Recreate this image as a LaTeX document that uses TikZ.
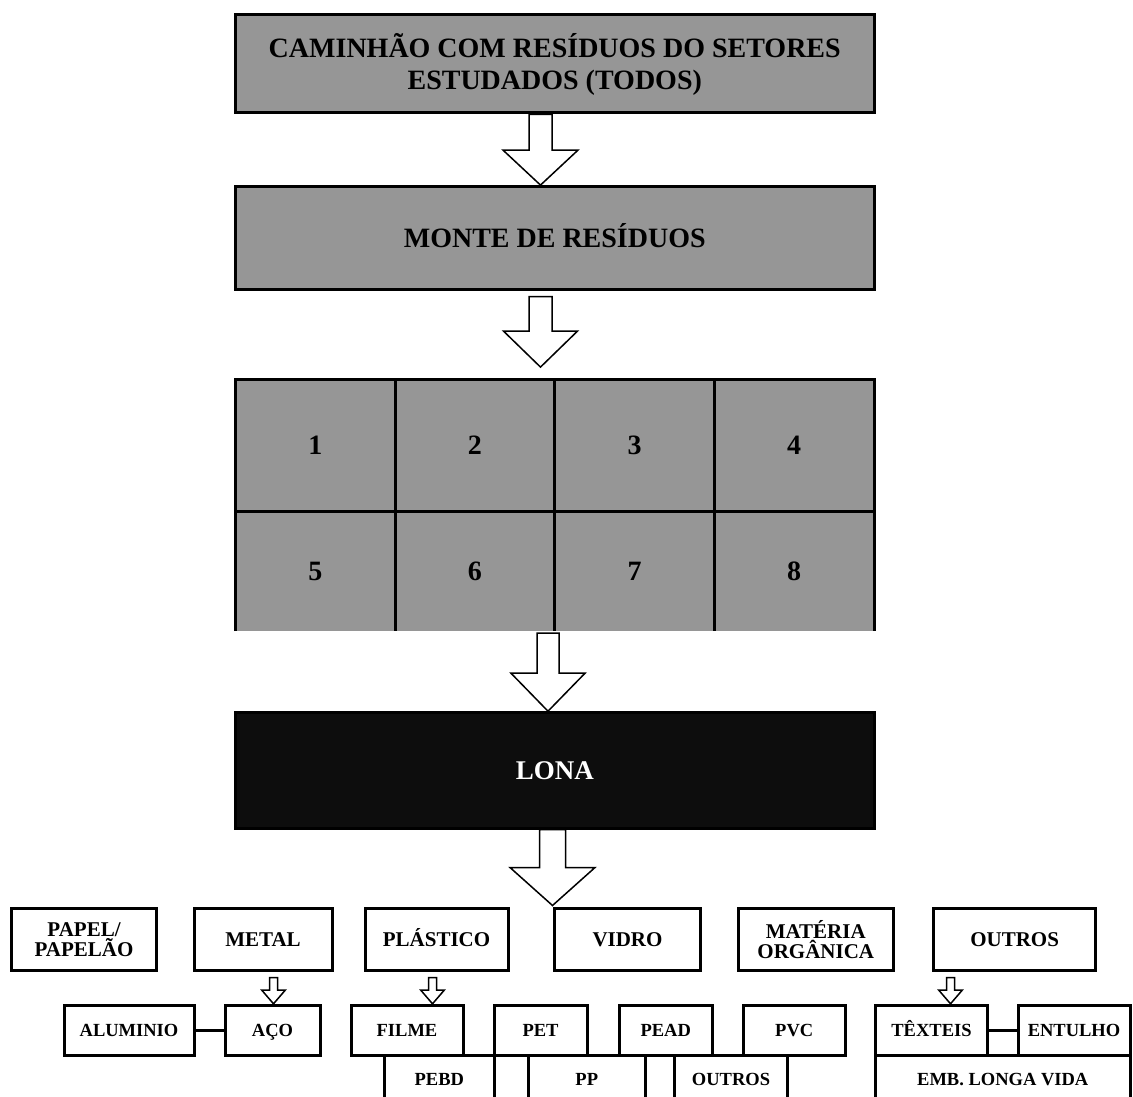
\documentclass[tikz,border=0pt]{standalone}
\usepackage{fontspec}
\setmainfont{Liberation Serif}
\usetikzlibrary{calc}
\definecolor{boxgray}{RGB}{150,150,150}
\definecolor{lonablack}{RGB}{13,13,13}
% #1 from node, #2 to node, #3 x, #4 start gap, #5 end gap, #6 shaft half width, #7 head half width, #8 head length
\newcommand{\blkarrow}[8]{%
  \draw[blockarrow] let \p1=(#1.south), \p2=(#2.north) in
    (#3-#6, \y1-#4) -- (#3-#6, \y2+#5+#8) -- (#3-#7, \y2+#5+#8) -- (#3, \y2+#5)
    -- (#3+#7, \y2+#5+#8) -- (#3+#6, \y2+#5+#8) -- (#3+#6, \y1-#4) -- cycle;}
\begin{document}
\begin{tikzpicture}[x=1pt,y=-1pt,
  bigbox/.style={draw=black, line width=3pt, fill=boxgray, inner sep=0pt, align=center,
    font=\fontsize{28}{32}\selectfont\bfseries},
  bigcap/.style={text height=18.5pt, text depth=0pt},
  cell/.style={fill=boxgray, inner sep=0pt, minimum width=159.6pt,
    text height=18.9pt, text depth=0pt,
    font=\fontsize{28}{32}\selectfont\bfseries},
  gridline/.style={draw=black, line width=3pt},
  midbox/.style={draw=black, line width=3pt, fill=white, inner sep=0pt, align=center,
    minimum height=62.5pt, font=\fontsize{21}{20}\selectfont\bfseries},
  midcap/.style={text height=13.9pt, text depth=0pt},
  smallbox/.style={draw=black, line width=3pt, fill=white, inner sep=0pt, align=center,
    minimum height=50.4pt, text height=12.3pt, text depth=0pt,
    font=\fontsize{18.5}{20}\selectfont\bfseries},
  openbox/.style={inner sep=0pt, align=center, minimum height=48pt,
    text height=12.3pt, text depth=0pt,
    font=\fontsize{18.5}{20}\selectfont\bfseries},
  openline/.style={draw=black, line width=3pt},
  conn/.style={draw=black, line width=3pt},
  blockarrow/.style={draw=black, fill=white, line width=1.5pt, line join=miter}
]
\useasboundingbox (0,0) rectangle (1133,1097);
\fill[white] (0,0) rectangle (1133,1097);

% top boxes
\node[bigbox, minimum width=638.5pt, minimum height=98pt] (truck) at (554.75,64)
  {CAMINHÃO COM RESÍDUOS DO SETORES\\ESTUDADOS (TODOS)};
\node[bigbox, bigcap, minimum width=638.5pt, minimum height=103pt] (monte) at (554.75,238.1)
  {MONTE DE RESÍDUOS};

% grid
\node[cell, minimum height=131.7pt] (c1) at (315.3,445.15) {1};
\node[cell, minimum height=131.7pt] (c2) at (474.9,445.15) {2};
\node[cell, minimum height=131.7pt] (c3) at (634.5,445.15) {3};
\node[cell, minimum height=131.7pt] (c4) at (794.1,445.15) {4};
\node[cell, minimum height=120pt] (c5) at (315.3,571) {5};
\node[cell, minimum height=120pt] (c6) at (474.9,571) {6};
\node[cell, minimum height=120pt] (c7) at (634.5,571) {7};
\node[cell, minimum height=120pt] (c8) at (794.1,571) {8};
\draw[gridline] (c5.south west) -- (c1.north west) -- (c4.north east) -- (c8.south east);
\draw[gridline] (c1.south west) -- (c4.south east);
\draw[gridline] (c1.north east) -- (c5.south east);
\draw[gridline] (c2.north east) -- (c6.south east);
\draw[gridline] (c3.north east) -- (c7.south east);

% lona
\node[draw=black, line width=3pt, fill=lonablack, text=white, inner sep=0pt,
  minimum width=638.5pt, minimum height=115.5pt, text height=17.9pt, text depth=0pt,
  font=\fontsize{27}{30}\selectfont\bfseries] (lona) at (554.75,770.45) {LONA};

% middle row
\node[midbox, minimum width=144.5pt] (papel) at (84.05,939.25) {PAPEL/\\PAPELÃO};
\node[midbox, midcap, minimum width=138pt] (metal) at (263,939.25) {METAL};
\node[midbox, midcap, minimum width=143pt] (plastico) at (436.5,939.25) {PLÁSTICO};
\node[midbox, midcap, minimum width=146pt] (vidro) at (627.5,939.25) {VIDRO};
\node[midbox, minimum width=154.5pt] (materia) at (815.75,939.25) {MATÉRIA\\ORGÂNICA};
\node[midbox, midcap, minimum width=162.3pt] (outros) at (1014.65,939.25) {OUTROS};

% small row
\node[smallbox, minimum width=130pt] (aluminio) at (129,1030.5) {ALUMINIO};
\node[smallbox, minimum width=95pt] (aco) at (272.5,1030.5) {AÇO};
\node[smallbox, minimum width=112pt] (filme) at (407,1030.5) {FILME};
\node[smallbox, minimum width=93pt] (pet) at (540.5,1030.5) {PET};
\node[smallbox, minimum width=93.5pt] (pead) at (665.75,1030.5) {PEAD};
\node[smallbox, minimum width=101.5pt] (pvc) at (794.25,1030.5) {PVC};
\node[smallbox, minimum width=112pt] (texteis) at (931.5,1030.5) {TÊXTEIS};
\node[smallbox, minimum width=112pt] (entulho) at (1074,1030.5) {ENTULHO};

% open boxes below
\node[openbox, minimum width=109.4pt] (pebd) at (439.3,1079.7) {PEBD};
\node[openbox, minimum width=116.5pt] (pp) at (586.75,1079.7) {PP};
\node[openbox, minimum width=113pt] (outrosb) at (731,1079.7) {OUTROS};
\node[openbox, minimum width=254.5pt] (emb) at (1002.75,1079.7) {EMB. LONGA VIDA};
\foreach \n in {pebd,pp,outrosb,emb}{
  \draw[openline] (\n.north west |- 0,1100) -- (\n.north west) -- (\n.north east) -- (\n.north east |- 0,1100);
}

% connectors
\draw[conn] (aluminio.east) -- (aco.west);
\draw[conn] (texteis.east) -- (entulho.west);

% block arrows
\blkarrow{truck}{monte}{540.5}{0}{0}{11.5}{37.5}{35}
\blkarrow{monte}{c2}{540.5}{5.5}{12}{11.5}{37}{36}
\blkarrow{c6}{lona}{548}{2}{0}{11}{37}{38}
\blkarrow{lona}{vidro}{552.5}{0}{1}{13}{42.5}{38}
\blkarrow{metal}{aco}{273.5}{5.5}{0}{4}{11.7}{13.6}
\blkarrow{plastico}{filme}{432.5}{5.5}{0}{4}{11.7}{13.6}
\blkarrow{outros}{texteis}{950.5}{5.5}{0}{4}{11.7}{13.6}
\end{tikzpicture}
\end{document}
